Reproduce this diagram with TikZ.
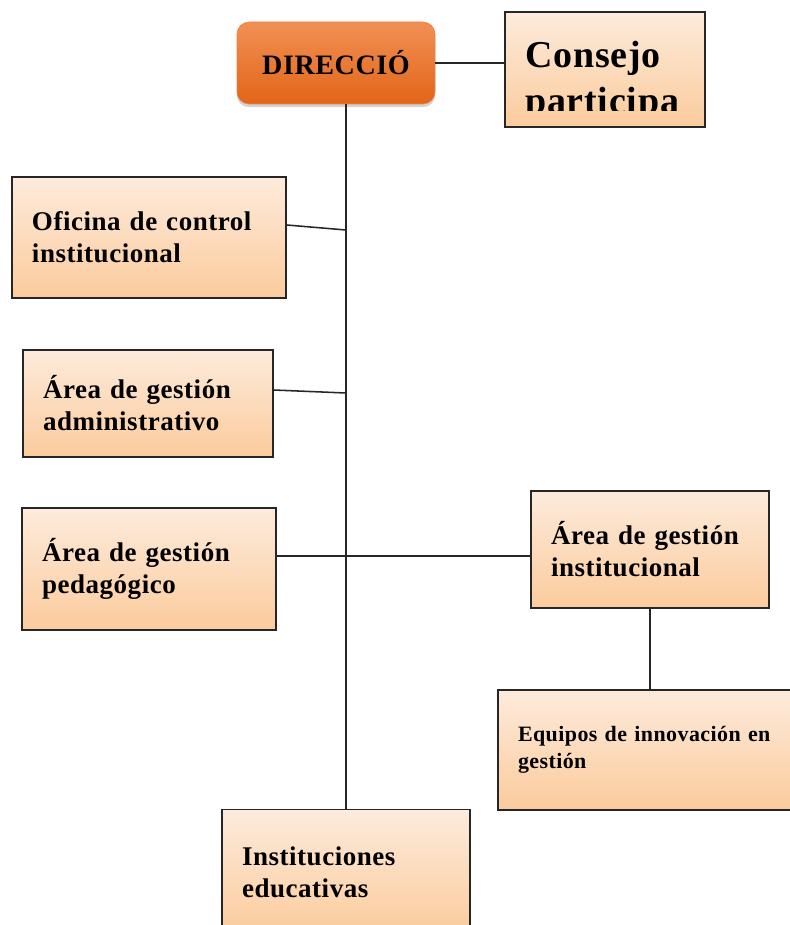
\documentclass[tikz,border=0pt]{standalone}
\usepackage{fontspec}
\setmainfont[WordSpace=0.55,LetterSpace=2]{Liberation Serif}
\usepackage{tikz}
\usetikzlibrary{shadows}
\definecolor{peachtop}{RGB}{253,235,220}
\definecolor{peachbot}{RGB}{251,203,156}
\definecolor{orgtop}{RGB}{241,144,84}
\definecolor{orgbot}{RGB}{226,101,24}

\begin{document}
\begin{tikzpicture}[
  orgbox/.style={draw=black!85, line width=1.1pt, top color=peachtop, bottom color=peachbot,
    inner xsep=0.5cm, inner ysep=0pt, align=left, font=\bfseries\fontsize{19.2}{22.8}\selectfont},
  jefe/.style={rounded corners=0.3cm, top color=orgtop, bottom color=orgbot, draw=orgbot!80,
    drop shadow={shadow xshift=0pt, shadow yshift=-0.08cm, opacity=0.35},
    font=\bfseries\fontsize{20}{22.8}\selectfont},
  enlace/.style={line width=1.1pt, black!85}]
\clip (0,0) rectangle (19.75,-23.125);
\node[jefe, minimum width=4.95cm, minimum height=2.05cm] (direccion) at (8.4,-1.575) {DIRECCIÓ};
\node[orgbox, minimum height=2.875cm, text width=4cm] (consejo) at (15.125,-1.7375) {};
\begin{scope}
\clip (consejo.north west) rectangle ([yshift=0.425cm]consejo.south east);
\node[anchor=base west, inner sep=0pt, font=\bfseries\fontsize{27}{32}\selectfont] (consejo1) at (13.125,-1.7) {Consejo};
\node[anchor=base west, inner sep=0pt, font=\bfseries\fontsize{27}{32}\selectfont] (consejo2) at (13.125,-2.85) {participa};
\end{scope}
\node[orgbox, minimum height=3.025cm, text width=5.85cm] (oficina) at (3.725,-5.9375) {Oficina de control\\institucional};
\node[orgbox, minimum height=2.675cm, text width=5.25cm] (administrativo) at (3.7,-10.0875) {Área de gestión\\administrativo};
\node[orgbox, minimum height=3.05cm, text width=5.35cm] (pedagogico) at (3.725,-14.225) {Área de gestión\\pedagógico};
\node[orgbox, minimum height=2.925cm, text width=4.95cm] (institucional) at (16.25,-13.7375) {Área de gestión\\institucional};
\node[orgbox, minimum height=3cm, text width=6.55cm, font=\bfseries\fontsize{15.6}{19}\selectfont] (equipos) at (16.225,-18.75) {Equipos de innovación en\\gestión};
\node[orgbox, minimum height=3.125cm, text width=5.2cm] (instituciones) at (8.65,-21.8) {Instituciones\\educativas};

\draw[enlace] (direccion.east) -- (direccion.east -| consejo.west);
\draw[enlace] (direccion.south -| instituciones.north) -- (instituciones.north);
\coordinate (j1) at (8.65,-5.75);
\draw[enlace] ([yshift=0.3125cm]oficina.east) -- (j1);
\coordinate (j2) at (8.65,-9.825);
\draw[enlace] ([yshift=0.3375cm]administrativo.east) -- (j2);
\draw[enlace] ([yshift=0.325cm]pedagogico.east) -- ([yshift=0.325cm]pedagogico.east -| institucional.west);
\draw[enlace] (institucional.south) -- (institucional.south |- equipos.north);
\end{tikzpicture}
\end{document}
